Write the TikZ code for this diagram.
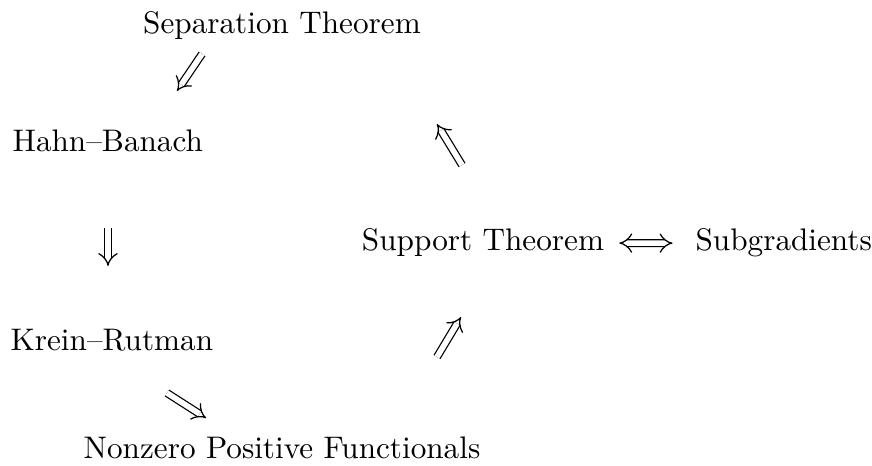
\documentclass[tikz,border=0pt]{standalone}
\usetikzlibrary{arrows.meta}
\tikzset{
  imp/.style={
    double, double distance=1.8pt, line width=0.4pt,
    -{Implies}
  },
  thm/.style={anchor=base, inner sep=0pt}
}
\begin{document}
\begin{tikzpicture}[x=0.3205pt,y=-0.3205pt]
  \useasboundingbox (0,0) rectangle (872,466);
  \node[thm] (sep) at (282,34) {Separation Theorem};
  \node[thm,anchor=base west] (hb) at (12,152) {Hahn--Banach};
  \node[thm,anchor=base west] (kr) at (10,351) {Krein--Rutman};
  \node[thm] (pos) at (282,459) {Nonzero Positive Functionals};
  \node[thm] (sup) at (483,251) {Support Theorem};
  \node[thm,anchor=base west] (sub) at (695,251) {Subgradients};
  % free ends of the slanted arrows
  \coordinate (a1) at (202,54);  \coordinate (b1) at (177,91);
  \coordinate (a2) at (108,228); \coordinate (b2) at (108,266);
  \coordinate (a3) at (167,393); \coordinate (b3) at (206,418);
  \coordinate (a4) at (437,357); \coordinate (b4) at (461,317);
  \coordinate (a5) at (462,165); \coordinate (b5) at (437,124);
  \draw[imp] (a1) -- (b1);   % separation => hahn-banach
  \draw[imp] (a2) -- (b2);   % hahn-banach => krein-rutman
  \draw[imp] (a3) -- (b3);   % krein-rutman => positive functionals
  \draw[imp] (a4) -- (b4);   % positive functionals => support
  \draw[imp] (a5) -- (b5);   % support => separation
  \draw[imp,{Implies}-{Implies},shorten <=4.7pt,shorten >=7.2pt] (sup) -- (sub);
\end{tikzpicture}
\end{document}
